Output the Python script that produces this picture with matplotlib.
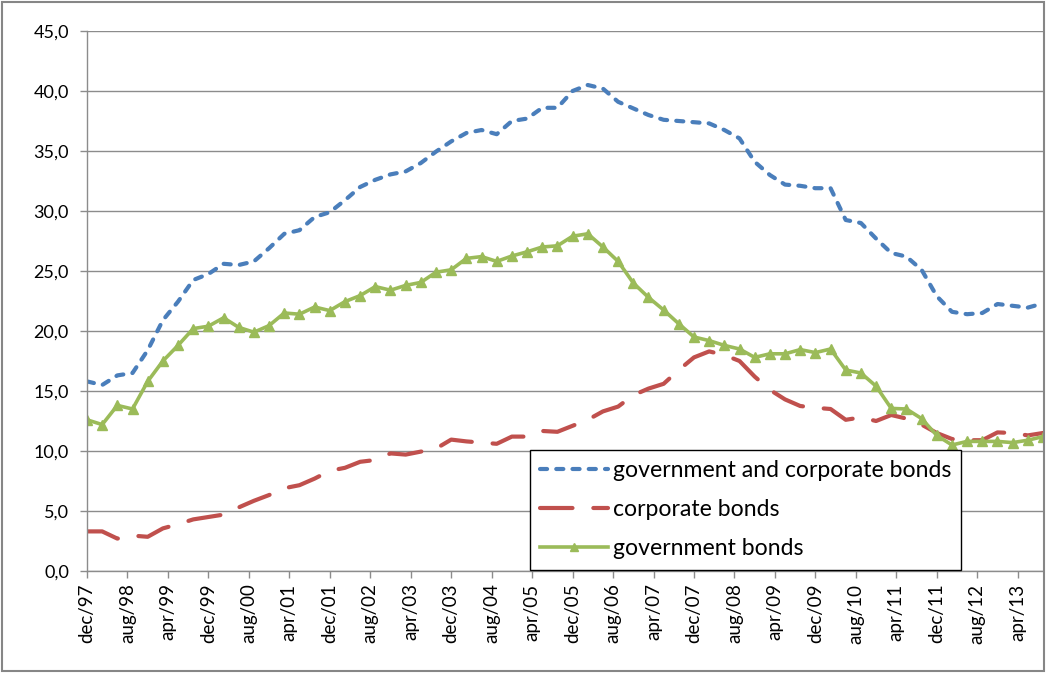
import numpy as np
import pandas as pd
import matplotlib
matplotlib.use("Agg")
import matplotlib.pyplot as plt
from matplotlib.patches import Rectangle

plt.rcParams['font.family'] = ['Lato', 'DejaVu Sans']

# quarterly observations dec/97 ... sep/13
periods = pd.period_range("1997-12", "2013-09", freq="M")[::3]

gov_corp = [15.8, 15.5, 16.3, 16.5, 18.4, 20.9, 22.45, 24.25, 24.75, 25.6, 25.5, 25.8, 26.9, 28.1, 28.4, 29.5, 29.9,
            30.9, 32.0, 32.6, 33.05, 33.3, 34.0, 34.95, 35.8, 36.5, 36.75, 36.4,
            37.5, 37.7, 38.6, 38.6, 40.0, 40.5, 40.2, 39.1, 38.55, 38.0, 37.6, 37.5, 37.4, 37.3, 36.75, 36.05,
            34.1, 33.0, 32.2, 32.1, 31.9, 31.9, 29.25, 29.0, 27.7, 26.5, 26.2, 25.1, 22.9, 21.6, 21.4, 21.5,
            22.25, 22.1, 21.95, 22.3]

corporate = [3.3, 3.3, 2.7, 2.95, 2.85, 3.55, 3.9, 4.3, 4.5, 4.7, 5.3, 5.85, 6.33, 6.9, 7.15, 7.7, 8.35,
             8.6, 9.1, 9.25, 9.8, 9.7, 9.95, 10.2, 10.95, 10.8, 10.7, 10.6, 11.2, 11.2, 11.67, 11.6,
             12.1, 12.6, 13.3, 13.7, 14.65, 15.2, 15.6, 16.75, 17.8, 18.3, 18.0, 17.5, 16.2, 15.1, 14.3, 13.75,
             13.6, 13.5, 12.6, 12.8, 12.5, 13.0, 12.7, 12.2, 11.5, 11.0, 10.9, 10.9, 11.55, 11.5, 11.3, 11.5]

government = [12.6, 12.2, 13.8, 13.5, 15.8, 17.5, 18.8, 20.2, 20.4, 21.1, 20.3, 19.9, 20.45, 21.5, 21.4, 22.0, 21.7,
              22.45, 22.95, 23.7, 23.4, 23.8, 24.05, 24.9, 25.1, 26.05, 26.2, 25.8, 26.25, 26.6, 27.0, 27.1,
              27.9, 28.1, 27.0, 25.8, 24.0, 22.8, 21.75, 20.6, 19.5, 19.2, 18.8, 18.5, 17.8, 18.1, 18.1, 18.45,
              18.2, 18.5, 16.75, 16.5, 15.4, 13.55, 13.5, 12.7, 11.3, 10.5, 10.8, 10.8, 10.8, 10.7, 10.9, 11.2]

x_tick_labels = ["dec/97", "aug/98", "apr/99", "dec/99", "aug/00", "apr/01", "dec/01", "aug/02",
                 "apr/03", "dec/03", "aug/04", "apr/05", "dec/05", "aug/06", "apr/07", "dec/07",
                 "aug/08", "apr/09", "dec/09", "aug/10", "apr/11", "dec/11", "aug/12", "apr/13"]
y_ticks = [0, 5, 10, 15, 20, 25, 30, 35, 40, 45]
y_tick_labels = ["0,0", "5,0", "10,0", "15,0", "20,0", "25,0", "30,0", "35,0", "40,0", "45,0"]

labels = ["government and corporate bonds", "corporate bonds", "government bonds"]

# month offsets since first observation
x = np.array([(p - periods[0]).n for p in periods])
tick_periods = pd.period_range("1997-12", "2013-04", freq="M")[::8]
x_ticks = [(p - periods[0]).n for p in tick_periods]

W, H = 1046, 673
fig = plt.figure(figsize=(W / 100, H / 100), dpi=100)
ax = fig.add_axes([87 / W, 1 - 571 / H, (1043 - 87) / W, 540 / H])

grid_col = '#8c8c8c'
ax.set_xlim(0, x[-1])
ax.set_ylim(0, 45)
ax.set_yticks(y_ticks)
ax.set_yticklabels(y_tick_labels)
ax.set_xticks(x_ticks)
ax.set_xticklabels(x_tick_labels, rotation=90, va='top', ha='center')
ax.yaxis.grid(True, color=grid_col, lw=1.0)
ax.set_axisbelow(True)
for s in ['top', 'right']:
    ax.spines[s].set_visible(False)
for s in ['left', 'bottom']:
    ax.spines[s].set_color(grid_col)
    ax.spines[s].set_linewidth(1.0)
ax.tick_params(axis='both', colors=grid_col, length=5, width=1.0, labelcolor='black', labelsize=13)
ax.tick_params(axis='x', labelsize=13.5)
ax.tick_params(axis='y', pad=8)
ax.tick_params(axis='x', pad=4)

lw = 3.0
l1, = ax.plot(x, gov_corp, color='#4A7EBB', lw=lw, linestyle=(0, (1.7, 2.2)),
              dash_capstyle='round', label=labels[0])
l2, = ax.plot(x, corporate, color='#C0504D', lw=lw, linestyle=(0, (7.8, 5.0)),
              dash_capstyle='round', label=labels[1])
l3, = ax.plot(x, government, color='#9BBB59', lw=2.6, marker='^', markersize=6.5,
              markeredgecolor='#9BBB59', markerfacecolor='#9BBB59', label=labels[2])

leg = ax.legend(handles=[l1, l2, l3], loc='upper left',
                bbox_to_anchor=((530 - 87) / (1043 - 87), (571 - 450) / 540),
                fontsize=16.6, frameon=True, fancybox=False, framealpha=1,
                edgecolor='black', borderpad=0.45, labelspacing=0.78,
                handlelength=2.95, handletextpad=0.18, borderaxespad=0, markerscale=0.8)
leg.get_frame().set_linewidth(1.0)

fig.patches.append(Rectangle((2 / W, 2 / H), (W - 4) / W, (H - 4) / H, transform=fig.transFigure,
                             fill=False, edgecolor='#868686', lw=1.5))

fig.savefig('out.png', dpi=100)
